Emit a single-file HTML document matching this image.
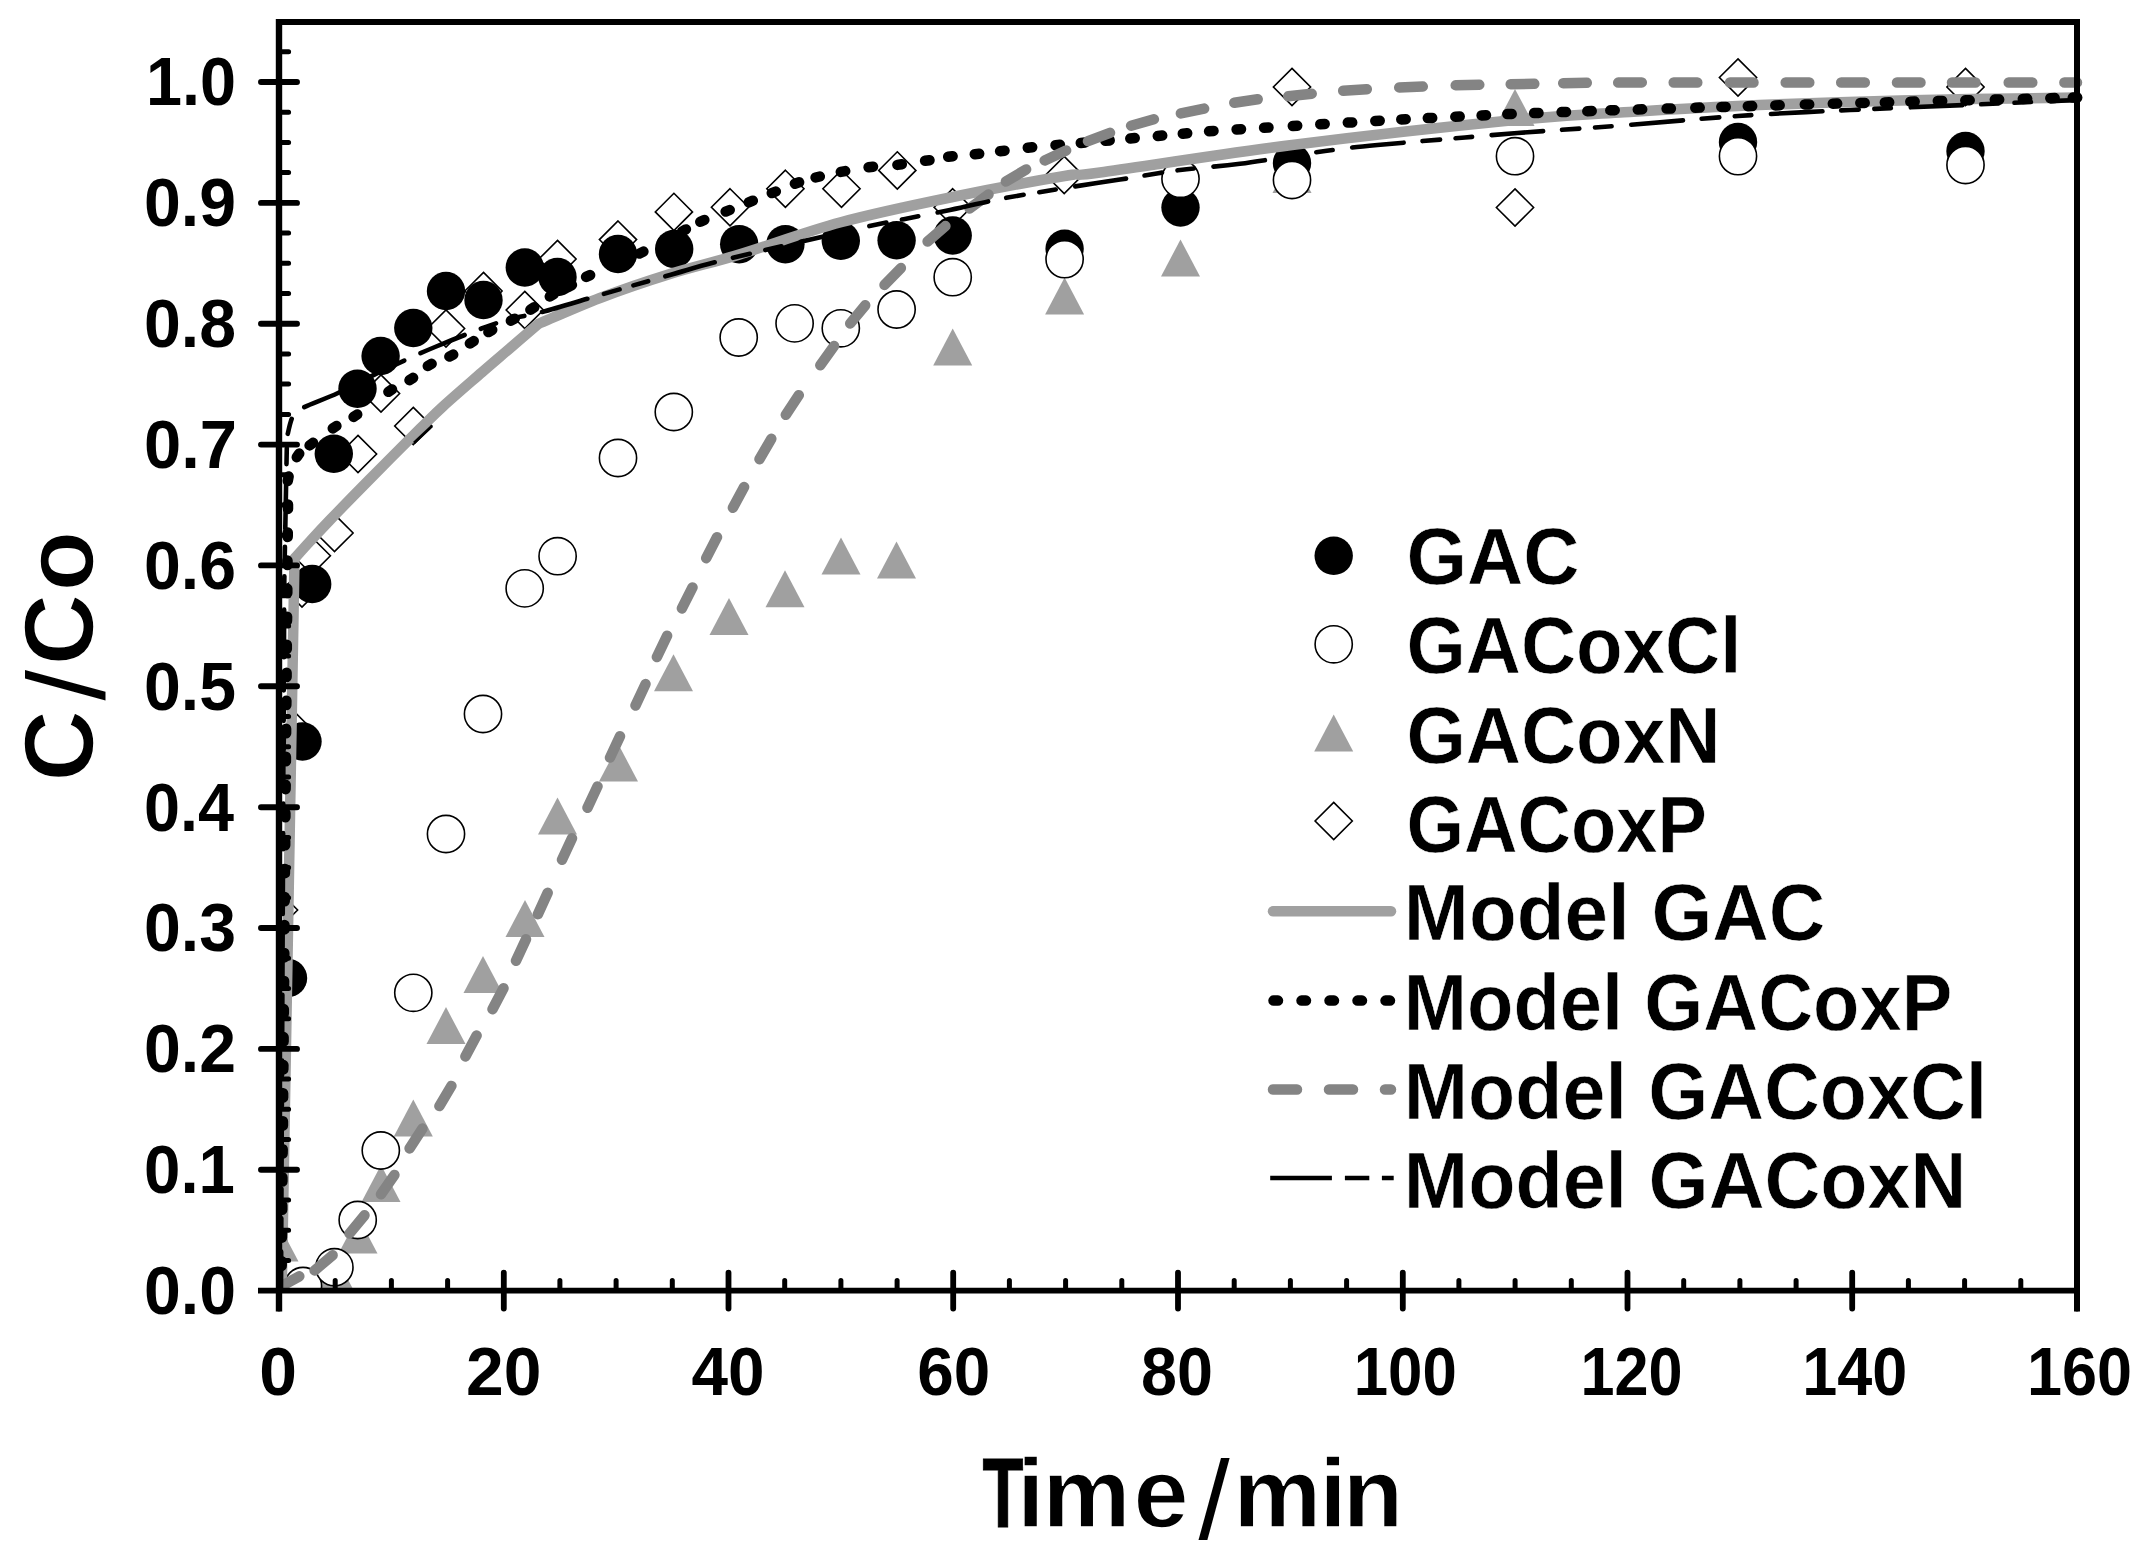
<!DOCTYPE html>
<html lang="en"><head><meta charset="utf-8"><title>C/Co vs Time</title>
<style>html,body{margin:0;padding:0;background:#fff;width:2150px;height:1560px;overflow:hidden}svg{display:block}text{font-family:"Liberation Sans", Arial, Helvetica, sans-serif;font-weight:bold;fill:#000}</style>
</head><body>
<svg width="2150" height="1560" viewBox="0 0 2150 1560">
<rect width="2150" height="1560" fill="#fff"/>
<defs><clipPath id="plot"><rect x="279.0" y="21.9" width="1798.0" height="1269.1"/></clipPath></defs>
<g clip-path="url(#plot)">
<g id="diamonds" fill="#fff" stroke="#000" stroke-width="1.6">
<path d="M279.0 891.4L297.6 910.0L279.0 928.6L260.4 910.0Z"/>
<path d="M288.0 705.4L306.6 724.0L288.0 742.6L269.4 724.0Z"/>
<path d="M302.0 569.9L320.6 588.5L302.0 607.1L283.4 588.5Z"/>
<path d="M311.8 537.2L330.4 555.8L311.8 574.4L293.2 555.8Z"/>
<path d="M334.5 514.4L353.1 533.0L334.5 551.6L315.9 533.0Z"/>
<path d="M358.0 435.4L376.6 454.0L358.0 472.6L339.4 454.0Z"/>
<path d="M381.0 374.9L399.6 393.5L381.0 412.1L362.4 393.5Z"/>
<path d="M413.3 407.4L431.9 426.0L413.3 444.6L394.7 426.0Z"/>
<path d="M446.0 309.9L464.6 328.5L446.0 347.1L427.4 328.5Z"/>
<path d="M483.5 272.4L502.1 291.0L483.5 309.6L464.9 291.0Z"/>
<path d="M524.8 291.4L543.4 310.0L524.8 328.6L506.2 310.0Z"/>
<path d="M557.5 240.4L576.1 259.0L557.5 277.6L538.9 259.0Z"/>
<path d="M618.0 221.0L636.6 239.6L618.0 258.2L599.4 239.6Z"/>
<path d="M673.9 193.3L692.5 211.9L673.9 230.5L655.3 211.9Z"/>
<path d="M730.0 188.7L748.6 207.3L730.0 225.9L711.4 207.3Z"/>
<path d="M785.4 170.2L804.0 188.8L785.4 207.4L766.8 188.8Z"/>
<path d="M841.5 170.2L860.1 188.8L841.5 207.4L822.9 188.8Z"/>
<path d="M897.3 151.8L915.9 170.4L897.3 189.0L878.7 170.4Z"/>
<path d="M952.7 188.7L971.3 207.3L952.7 225.9L934.1 207.3Z"/>
<path d="M1064.2 156.4L1082.8 175.0L1064.2 193.6L1045.6 175.0Z"/>
<path d="M1292.0 68.4L1310.6 87.0L1292.0 105.6L1273.4 87.0Z"/>
<path d="M1515.0 188.9L1533.6 207.5L1515.0 226.1L1496.4 207.5Z"/>
<path d="M1738.0 58.9L1756.6 77.5L1738.0 96.1L1719.4 77.5Z"/>
<path d="M1965.5 68.4L1984.1 87.0L1965.5 105.6L1946.9 87.0Z"/>
</g>
<g id="tri" fill="#a0a0a0">
<path d="M279.0 1224.5L298.5 1261.5L259.5 1261.5Z"/>
<path d="M334.0 1253.0L353.5 1290.0L314.5 1290.0Z"/>
<path d="M358.0 1216.5L377.5 1253.5L338.5 1253.5Z"/>
<path d="M381.0 1165.0L400.5 1202.0L361.5 1202.0Z"/>
<path d="M413.3 1099.5L432.8 1136.5L393.8 1136.5Z"/>
<path d="M446.0 1007.1L465.5 1044.1L426.5 1044.1Z"/>
<path d="M483.0 955.9L502.5 992.9L463.5 992.9Z"/>
<path d="M525.0 900.0L544.5 937.0L505.5 937.0Z"/>
<path d="M557.5 797.5L577.0 834.5L538.0 834.5Z"/>
<path d="M618.5 744.5L638.0 781.5L599.0 781.5Z"/>
<path d="M673.5 654.3L693.0 691.3L654.0 691.3Z"/>
<path d="M729.0 598.0L748.5 635.0L709.5 635.0Z"/>
<path d="M785.0 570.3L804.5 607.3L765.5 607.3Z"/>
<path d="M841.0 537.5L860.5 574.5L821.5 574.5Z"/>
<path d="M896.5 541.5L916.0 578.5L877.0 578.5Z"/>
<path d="M952.7 328.4L972.2 365.4L933.2 365.4Z"/>
<path d="M1064.6 277.5L1084.1 314.5L1045.1 314.5Z"/>
<path d="M1180.5 239.5L1200.0 276.5L1161.0 276.5Z"/>
<path d="M1292.0 156.0L1311.5 193.0L1272.5 193.0Z"/>
<path d="M1515.0 89.0L1534.5 126.0L1495.5 126.0Z"/>
</g>
<g id="gac" fill="#000">
<circle cx="288.0" cy="978.0" r="19.2"/>
<circle cx="302.5" cy="741.5" r="19.2"/>
<circle cx="312.2" cy="584.0" r="19.2"/>
<circle cx="333.8" cy="453.8" r="19.2"/>
<circle cx="357.5" cy="388.7" r="19.2"/>
<circle cx="380.6" cy="356.0" r="19.2"/>
<circle cx="413.3" cy="328.0" r="19.2"/>
<circle cx="446.0" cy="291.0" r="19.2"/>
<circle cx="483.5" cy="300.0" r="19.2"/>
<circle cx="524.8" cy="267.5" r="19.2"/>
<circle cx="557.5" cy="277.0" r="19.2"/>
<circle cx="618.0" cy="254.0" r="19.2"/>
<circle cx="674.2" cy="248.9" r="19.2"/>
<circle cx="739.2" cy="244.2" r="19.2"/>
<circle cx="785.4" cy="244.2" r="19.2"/>
<circle cx="840.8" cy="240.8" r="19.2"/>
<circle cx="896.6" cy="240.3" r="19.2"/>
<circle cx="952.7" cy="235.5" r="19.2"/>
<circle cx="1064.6" cy="248.8" r="19.2"/>
<circle cx="1180.5" cy="207.5" r="19.2"/>
<circle cx="1292.0" cy="163.0" r="19.2"/>
<circle cx="1738.0" cy="142.0" r="19.2"/>
<circle cx="1965.5" cy="151.0" r="19.2"/>
</g>
<g id="oc" fill="#fff" stroke="#000" stroke-width="1.6">
<circle cx="303.0" cy="1286.0" r="18.6"/>
<circle cx="334.4" cy="1267.2" r="18.6"/>
<circle cx="357.7" cy="1220.0" r="18.6"/>
<circle cx="380.8" cy="1150.5" r="18.6"/>
<circle cx="413.3" cy="992.8" r="18.6"/>
<circle cx="446.0" cy="834.0" r="18.6"/>
<circle cx="483.0" cy="714.0" r="18.6"/>
<circle cx="524.7" cy="588.4" r="18.6"/>
<circle cx="557.6" cy="556.2" r="18.6"/>
<circle cx="618.0" cy="458.0" r="18.6"/>
<circle cx="673.8" cy="412.0" r="18.6"/>
<circle cx="738.7" cy="337.5" r="18.6"/>
<circle cx="794.6" cy="323.4" r="18.6"/>
<circle cx="840.8" cy="328.3" r="18.6"/>
<circle cx="896.6" cy="309.5" r="18.6"/>
<circle cx="952.7" cy="277.2" r="18.6"/>
<circle cx="1064.6" cy="259.2" r="18.6"/>
<circle cx="1180.5" cy="178.8" r="18.6"/>
<circle cx="1292.0" cy="180.0" r="18.6"/>
<circle cx="1515.0" cy="156.2" r="18.6"/>
<circle cx="1738.0" cy="156.2" r="18.6"/>
<circle cx="1965.5" cy="165.0" r="18.6"/>
</g>
</g>
<clipPath id="plotL"><rect x="276.5" y="0" width="1810" height="1293"/></clipPath>
<g fill="none" stroke-linejoin="round" clip-path="url(#plotL)">
<path d="M281.7 1290.6 L294.5 558.5 C297.1 555.6 304.4 547.4 310.3 541.0 C316.2 534.6 320.4 530.0 330.0 520.0 C339.6 510.0 353.0 496.2 368.0 481.0 C383.0 465.8 407.5 441.2 420.0 428.8 C432.5 416.4 432.8 415.7 443.1 406.3 C453.4 396.9 470.9 381.9 482.0 372.2 C493.1 362.5 500.6 356.3 510.0 348.2 C519.4 340.1 533.8 327.9 538.5 323.8 C548.8 319.5 578.1 306.3 600.0 298.0 C621.9 289.7 646.8 281.2 670.0 274.0 C693.2 266.8 710.5 263.2 739.0 254.6 C767.5 246.0 805.2 231.9 840.8 222.3 C876.4 212.7 915.4 204.7 952.7 197.0 C990.0 189.3 1040.0 180.1 1064.6 176.0 C1089.1 171.9 1062.1 177.7 1100.0 172.5 C1137.9 167.3 1222.8 153.8 1292.0 145.0 C1361.2 136.2 1460.3 125.4 1515.0 120.0 C1569.7 114.6 1582.8 114.8 1620.0 112.5 C1657.2 110.2 1691.3 108.0 1738.0 106.0 C1784.7 104.0 1843.5 101.9 1900.0 100.5 C1956.5 99.1 2047.5 98.0 2077.0 97.5" stroke="#a0a0a0" stroke-width="10.5" stroke-linecap="round"/>
<path d="M281.7 1265.7L281.7 1261.3M281.9 1237.7L282.0 1233.3M282.2 1209.7L282.2 1205.3M282.4 1181.6L282.4 1177.3M282.6 1153.6L282.7 1149.2M282.9 1125.6L282.9 1121.2M283.1 1097.6L283.1 1093.2M283.3 1069.5L283.4 1065.1M283.6 1041.5L283.6 1037.1M283.8 1013.5L283.8 1009.1M284.0 985.4L284.1 981.0M284.2 957.4L284.3 953.0M284.5 929.4L284.5 925.0M284.7 901.3L284.7 897.0M284.9 873.3L285.0 868.9M285.2 845.3L285.2 840.9M285.4 817.3L285.4 812.9M285.6 789.2L285.7 784.8M285.9 761.2L285.9 756.8M286.1 733.2L286.1 728.8M286.3 705.1L286.4 700.7M286.6 677.1L286.6 672.7M286.8 649.1L286.8 644.7M287.0 621.0L287.1 616.7M287.3 593.0L287.3 588.6M287.5 565.0L287.5 560.6M287.7 537.0L287.8 532.6M288.0 508.9L288.0 504.5M287.8 480.9L288.6 476.5M296.8 457.2L299.2 453.6M309.6 445.4L313.0 442.8M332.8 428.4L336.4 426.0M353.6 416.9L357.2 414.5M388.4 391.8L392.0 389.4M409.5 380.2L413.1 377.8M427.8 366.0L431.6 363.8M449.4 356.6L453.2 354.6M469.9 343.5L473.7 341.1M488.4 332.1L492.2 329.9M510.9 320.7L514.7 318.7M530.4 309.7L534.2 307.3M549.8 296.5L553.6 294.3M568.1 287.0L571.9 285.0M586.1 276.9L590.1 275.1M612.7 265.5L616.7 263.7M639.4 253.6L643.4 251.6M662.5 241.7L666.5 239.7M682.1 231.5L685.9 229.4M700.3 221.8L704.3 220.0M725.7 211.6L729.7 210.0M748.8 202.3L752.8 200.7M771.8 193.1L775.8 191.5M794.9 183.7L799.1 182.3M815.6 177.5L819.8 176.5M840.8 171.9L845.2 171.1M868.6 167.3L873.0 166.7M897.4 164.9L901.8 164.3M925.1 160.8L929.5 160.2M948.2 156.8L952.6 156.2M974.8 154.2L979.2 153.8M1000.1 151.2L1004.5 150.7M1027.8 147.7L1032.2 147.3M1055.5 145.2L1059.9 144.8M1080.8 142.9L1085.2 142.5M1105.3 140.8L1109.7 140.4M1130.3 138.5L1134.7 138.1M1157.8 136.0L1162.2 135.6M1182.8 133.7L1187.2 133.3M1209.1 131.3L1213.5 130.9M1236.6 129.5L1241.0 129.2M1264.1 127.8L1268.5 127.5M1292.8 126.0L1297.2 125.7M1320.3 124.3L1324.7 124.0M1347.8 122.6L1352.2 122.4M1375.3 121.0L1379.7 120.7M1401.3 119.4L1405.7 119.2M1427.8 118.1L1432.2 117.9M1455.3 116.7L1459.7 116.5M1481.6 115.4L1486.0 115.2M1507.3 114.1L1511.7 113.9M1534.1 113.1L1538.5 112.9M1561.6 112.1L1566.0 111.9M1587.3 111.2L1591.7 111.0M1610.3 110.3L1614.7 110.2M1637.8 109.5L1642.2 109.3M1666.6 108.6L1670.9 108.5M1695.3 107.8L1699.7 107.6M1721.3 107.0L1725.7 106.9M1747.8 106.2L1752.2 106.1M1775.3 105.4L1779.7 105.2M1804.8 104.5L1809.2 104.4M1832.8 103.7L1837.2 103.6M1860.3 103.0L1864.7 102.9M1884.8 102.4L1889.2 102.3M1910.3 101.7L1914.7 101.6M1937.8 101.0L1942.2 100.9M1965.3 100.3L1969.7 100.2M1994.8 99.6L1999.2 99.5M2022.8 98.9L2027.2 98.8M2050.3 98.2L2054.7 98.1M2072.8 97.6L2077.2 97.5" stroke="#000" stroke-width="10.5" stroke-linecap="round"/>
<path d="M278.7 1287.7L299.3 1276.3M314.6 1270.4L332.6 1255.2M349.5 1233.5L364.5 1215.3M381.0 1194.3L394.4 1174.9M409.6 1148.4L422.4 1128.6M439.4 1106.1L451.4 1085.9M465.4 1056.4L476.6 1035.6M492.5 1009.2L503.5 988.2M516.0 960.7L526.0 939.3M537.9 914.2L547.7 892.8M562.0 859.7L572.0 838.3M587.5 807.8L597.5 786.4M610.0 757.6L620.0 736.2M635.5 705.5L645.5 684.1M656.9 657.0L667.1 635.8M681.9 608.4L692.5 587.4M706.2 558.2L717.0 537.2M732.9 507.8L744.1 487.0M759.5 459.2L771.3 438.8M785.8 414.8L798.8 395.2M820.3 365.2L834.1 346.0M850.2 323.5L865.2 305.3M884.5 284.9L900.9 268.1M927.6 241.5L945.4 226.1M969.5 208.5L988.5 194.5M1005.9 181.6L1026.1 169.4M1044.7 160.4L1066.1 150.4M1088.0 141.2L1110.0 132.8M1131.1 125.7L1153.9 119.3M1180.9 113.4L1204.1 108.6M1234.3 102.7L1257.7 99.3M1288.3 96.2L1311.7 93.8M1343.2 90.8L1366.8 89.2M1399.2 87.5L1422.8 86.5M1455.7 85.3L1479.3 84.7M1510.7 84.2L1534.3 83.8M1563.2 83.2L1586.8 82.8M1618.2 82.6L1641.8 82.4M1673.7 82.5L1697.3 82.5M1730.0 82.5L1753.5 82.5M1785.7 82.5L1809.3 82.5M1841.2 82.5L1864.8 82.5M1897.0 82.5L1920.5 82.5M1952.0 82.5L1975.5 82.5M2008.7 82.5L2032.3 82.5M2064.4 82.5L2077.0 82.5" stroke="#848484" stroke-width="10.5" stroke-linecap="round"/>
<clipPath id="cA"><rect x="0" y="0" width="663" height="1560"/></clipPath><clipPath id="cB"><rect x="663" y="0" width="1500" height="1560"/></clipPath>
<path id="mn" d="M281.0 1290.6 L284.3 580.0 L287.0 437.0 C288.0 433.5 290.1 421.0 293.0 416.0 C295.9 411.0 296.6 411.0 304.1 407.2 C311.6 403.4 325.4 398.9 338.0 393.0 C350.6 387.1 363.8 379.7 380.0 372.0 C396.2 364.3 415.0 355.3 435.0 347.0 C455.0 338.7 482.2 327.8 500.0 322.0 C517.8 316.2 525.3 316.5 542.0 312.0 C558.7 307.5 578.7 301.2 600.0 295.0 C621.3 288.8 650.3 280.6 670.0 275.0 C689.7 269.4 696.3 267.0 718.0 261.5 C739.7 256.0 774.5 247.9 800.0 242.0 C825.5 236.1 845.8 231.1 870.8 225.8 C895.8 220.5 928.5 214.5 950.0 210.0 C971.5 205.5 980.5 202.7 1000.0 199.0 C1019.5 195.3 1047.0 190.9 1067.0 187.7 C1087.0 184.5 1101.2 182.5 1120.0 179.6 C1138.8 176.7 1160.0 172.6 1180.0 170.0 C1200.0 167.4 1215.8 166.9 1240.0 163.8 C1264.2 160.6 1302.1 154.1 1325.0 151.0 C1347.9 147.9 1354.2 147.2 1377.5 145.0 C1400.8 142.8 1441.7 139.5 1465.0 137.5 C1488.3 135.5 1492.5 134.9 1517.5 133.0 C1542.5 131.1 1578.2 128.8 1615.0 126.0 C1651.8 123.2 1698.8 118.7 1738.0 116.0 C1777.2 113.3 1812.2 111.8 1850.0 110.0 C1887.8 108.2 1927.2 106.7 1965.0 105.0 C2002.8 103.3 2058.3 100.8 2077.0 100.0" stroke="#000" stroke-width="4.6" stroke-linecap="round" stroke-dasharray="47.5 17.2 16.1 14.4 15.1 18.1" stroke-dashoffset="8.55" clip-path="url(#cA)"/>
<path d="M281.0 1290.6 L284.3 580.0 L287.0 437.0 C288.0 433.5 290.1 421.0 293.0 416.0 C295.9 411.0 296.6 411.0 304.1 407.2 C311.6 403.4 325.4 398.9 338.0 393.0 C350.6 387.1 363.8 379.7 380.0 372.0 C396.2 364.3 415.0 355.3 435.0 347.0 C455.0 338.7 482.2 327.8 500.0 322.0 C517.8 316.2 525.3 316.5 542.0 312.0 C558.7 307.5 578.7 301.2 600.0 295.0 C621.3 288.8 650.3 280.6 670.0 275.0 C689.7 269.4 696.3 267.0 718.0 261.5 C739.7 256.0 774.5 247.9 800.0 242.0 C825.5 236.1 845.8 231.1 870.8 225.8 C895.8 220.5 928.5 214.5 950.0 210.0 C971.5 205.5 980.5 202.7 1000.0 199.0 C1019.5 195.3 1047.0 190.9 1067.0 187.7 C1087.0 184.5 1101.2 182.5 1120.0 179.6 C1138.8 176.7 1160.0 172.6 1180.0 170.0 C1200.0 167.4 1215.8 166.9 1240.0 163.8 C1264.2 160.6 1302.1 154.1 1325.0 151.0 C1347.9 147.9 1354.2 147.2 1377.5 145.0 C1400.8 142.8 1441.7 139.5 1465.0 137.5 C1488.3 135.5 1492.5 134.9 1517.5 133.0 C1542.5 131.1 1578.2 128.8 1615.0 126.0 C1651.8 123.2 1698.8 118.7 1738.0 116.0 C1777.2 113.3 1812.2 111.8 1850.0 110.0 C1887.8 108.2 1927.2 106.7 1965.0 105.0 C2002.8 103.3 2058.3 100.8 2077.0 100.0" stroke="#000" stroke-width="4.6" stroke-linecap="round" stroke-dasharray="51.8 18.7 17.5 15.7 16.5 19.8" stroke-dashoffset="124.9" clip-path="url(#cB)"/>
<path d="M414 443L432 426" stroke="#000" stroke-width="3"/>
</g>
<g stroke="#000" fill="none" stroke-linecap="butt">
<path d="M279.0 21.9H2077.0V1311.6" stroke-width="6"/>
<path d="M279.0 18.9V1311.6" stroke-width="6.4"/>
<path d="M258.0 1290.6H2080.0" stroke-width="5.8"/>
<path d="M261.0 1169.7H297.0M261.0 1048.9H297.0M261.0 928.0H297.0M261.0 807.2H297.0M261.0 686.3H297.0M261.0 565.4H297.0M261.0 444.6H297.0M261.0 323.7H297.0M261.0 202.9H297.0M261.0 82.0H297.0" stroke-width="5.9" stroke-linecap="round"/>
<path d="M279.0 1260.4H288.6M279.0 1230.2H288.6M279.0 1200.0H288.6M279.0 1139.5H288.6M279.0 1109.3H288.6M279.0 1079.1H288.6M279.0 1018.7H288.6M279.0 988.4H288.6M279.0 958.2H288.6M279.0 897.8H288.6M279.0 867.6H288.6M279.0 837.4H288.6M279.0 776.9H288.6M279.0 746.7H288.6M279.0 716.5H288.6M279.0 656.1H288.6M279.0 625.9H288.6M279.0 595.7H288.6M279.0 535.2H288.6M279.0 505.0H288.6M279.0 474.8H288.6M279.0 414.4H288.6M279.0 384.1H288.6M279.0 353.9H288.6M279.0 293.5H288.6M279.0 263.3H288.6M279.0 233.1H288.6M279.0 172.6H288.6M279.0 142.4H288.6M279.0 112.2H288.6M279.0 51.8H288.6" stroke-width="5" stroke-linecap="round"/>
<path d="M279.0 1272.6V1308.6M503.8 1272.6V1308.6M728.5 1272.6V1308.6M953.2 1272.6V1308.6M1178.0 1272.6V1308.6M1402.8 1272.6V1308.6M1627.5 1272.6V1308.6M1852.2 1272.6V1308.6M2077.0 1272.6V1308.6" stroke-width="5.8" stroke-linecap="round"/>
<path d="M335.2 1280.4V1290.6M391.4 1280.4V1290.6M447.6 1280.4V1290.6M559.9 1280.4V1290.6M616.1 1280.4V1290.6M672.3 1280.4V1290.6M784.7 1280.4V1290.6M840.9 1280.4V1290.6M897.1 1280.4V1290.6M1009.4 1280.4V1290.6M1065.6 1280.4V1290.6M1121.8 1280.4V1290.6M1234.2 1280.4V1290.6M1290.4 1280.4V1290.6M1346.6 1280.4V1290.6M1458.9 1280.4V1290.6M1515.1 1280.4V1290.6M1571.3 1280.4V1290.6M1683.7 1280.4V1290.6M1739.9 1280.4V1290.6M1796.1 1280.4V1290.6M1908.4 1280.4V1290.6M1964.6 1280.4V1290.6M2020.8 1280.4V1290.6" stroke-width="5" stroke-linecap="round"/>
</g>
<g font-size="68.8">
<text x="144.00" y="1314.0" textLength="92.00" lengthAdjust="spacingAndGlyphs">0.0</text>
<text x="144.00" y="1193.1" textLength="91.00" lengthAdjust="spacingAndGlyphs">0.1</text>
<text x="144.00" y="1072.3" textLength="92.00" lengthAdjust="spacingAndGlyphs">0.2</text>
<text x="144.00" y="951.4" textLength="92.00" lengthAdjust="spacingAndGlyphs">0.3</text>
<text x="144.00" y="830.6" textLength="90.00" lengthAdjust="spacingAndGlyphs">0.4</text>
<text x="144.00" y="709.7" textLength="92.00" lengthAdjust="spacingAndGlyphs">0.5</text>
<text x="144.00" y="588.8" textLength="92.00" lengthAdjust="spacingAndGlyphs">0.6</text>
<text x="144.00" y="468.0" textLength="93.00" lengthAdjust="spacingAndGlyphs">0.7</text>
<text x="144.00" y="347.1" textLength="92.00" lengthAdjust="spacingAndGlyphs">0.8</text>
<text x="144.00" y="226.3" textLength="92.00" lengthAdjust="spacingAndGlyphs">0.9</text>
<text x="146.00" y="105.4" textLength="90.00" lengthAdjust="spacingAndGlyphs">1.0</text>
</g>
<g font-size="68.8">
<text x="259.15" y="1395.4" textLength="37.70" lengthAdjust="spacingAndGlyphs">0</text>
<text x="465.95" y="1395.4" textLength="75.40" lengthAdjust="spacingAndGlyphs">20</text>
<text x="691.50" y="1395.4" textLength="73.00" lengthAdjust="spacingAndGlyphs">40</text>
<text x="917.25" y="1395.4" textLength="73.00" lengthAdjust="spacingAndGlyphs">60</text>
<text x="1141.00" y="1395.4" textLength="72.00" lengthAdjust="spacingAndGlyphs">80</text>
<text x="1353.75" y="1395.4" textLength="103.00" lengthAdjust="spacingAndGlyphs">100</text>
<text x="1580.50" y="1395.4" textLength="102.00" lengthAdjust="spacingAndGlyphs">120</text>
<text x="1802.25" y="1395.4" textLength="105.00" lengthAdjust="spacingAndGlyphs">140</text>
<text x="2027.00" y="1395.4" textLength="105.00" lengthAdjust="spacingAndGlyphs">160</text>
</g>
<text y="1527" font-size="99" stroke="#fff" stroke-width="1.4"><tspan x="982.6" textLength="41.0" lengthAdjust="spacingAndGlyphs" stroke="#000" stroke-width="1">T</tspan><tspan x="1016.9 1042.6 1133.6">ime</tspan><tspan x="1198.5" y="1539" font-size="112" font-weight="normal" stroke="none">/</tspan><tspan x="1233.3 1319.15 1342.75" y="1527 1527 1527">min</tspan></text>
<text transform="translate(93.4 777.4) rotate(-90)" font-size="99" stroke="#fff" stroke-width="1.5"><tspan x="-4" y="0">C</tspan><tspan x="77" y="10.9" font-size="110" font-weight="normal" stroke="none">/</tspan><tspan x="112.05 186.2" y="0 0">Co</tspan></text>
<circle cx="1333.7" cy="555.8" r="19.2" fill="#000"/>
<circle cx="1333.7" cy="644.3" r="18.6" fill="#fff" stroke="#000" stroke-width="1.6"/>
<path d="M1333.7 714.5L1353.2 751.5L1314.2 751.5Z" fill="#a0a0a0"/>
<path d="M1333.7 802.4L1352.3 821.0L1333.7 839.6L1315.1 821.0Z" fill="#fff" stroke="#000" stroke-width="1.6"/>
<g fill="none" stroke-linecap="round">
<path d="M1273 911.3H1391" stroke="#a0a0a0" stroke-width="10.5"/>
<path d="M1273.5 1000.6H1393" stroke="#000" stroke-width="10.5" stroke-dasharray="4.5 23.5"/>
<path d="M1273 1089.5H1391" stroke="#848484" stroke-width="10.5" stroke-dasharray="24 32"/>
<path d="M1270.2 1178H1393.7" stroke="#000" stroke-width="4.6" stroke-dasharray="61.7 13 24.4 12.6 24 13" stroke-linecap="butt"/>
</g>
<g font-size="79" stroke="#fff" stroke-width="0.6">
<text x="1406.40" y="583.7" textLength="173.00" lengthAdjust="spacingAndGlyphs">GAC</text>
<text x="1406.40" y="673.0" textLength="335.00" lengthAdjust="spacingAndGlyphs">GACoxCl</text>
<text x="1406.40" y="763.0" textLength="314.00" lengthAdjust="spacingAndGlyphs">GACoxN</text>
<text x="1406.40" y="852.2" textLength="300.50" lengthAdjust="spacingAndGlyphs">GACoxP</text>
<text x="1403.80" y="940.2" textLength="421.40" lengthAdjust="spacingAndGlyphs">Model GAC</text>
<text x="1403.80" y="1029.5" textLength="548.50" lengthAdjust="spacingAndGlyphs">Model GACoxP</text>
<text x="1403.80" y="1118.5" textLength="583.40" lengthAdjust="spacingAndGlyphs">Model GACoxCl</text>
<text x="1403.80" y="1208.0" textLength="562.60" lengthAdjust="spacingAndGlyphs">Model GACoxN</text>
</g>
</svg>
</body></html>
